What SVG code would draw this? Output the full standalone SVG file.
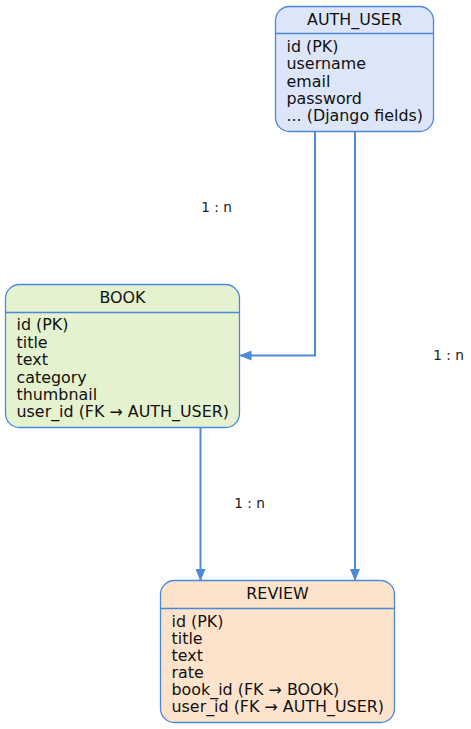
<svg xmlns="http://www.w3.org/2000/svg" width="471" height="729" viewBox="0 0 471 729">
<defs>
<style>
.box{stroke:#4a88dc;stroke-width:1.3}
.div{stroke:#4a88dc;stroke-width:1.3}
.t{font-family:"DejaVu Sans",sans-serif;font-size:15.9px;fill:#111}
.title{text-anchor:middle}
.lbl{font-family:"DejaVu Sans",sans-serif;font-size:13.7px;fill:#222;text-anchor:middle}
.edge{fill:none;stroke:#4a88dc;stroke-width:2}
</style>
<marker id="arr" markerWidth="12" markerHeight="10" viewBox="0 0 12 10" refX="11" refY="5" orient="auto" markerUnits="userSpaceOnUse">
<path d="M0,0 L12,5 L0,10 z" fill="#4a88dc"/>
</marker>
</defs>
<g id="connectors">
<path class="edge" d="M315,132 V355.5 H240.5" marker-end="url(#arr)"/>
<path class="edge" d="M355,132 V580" marker-end="url(#arr)"/>
<path class="edge" d="M200.5,428 V580" marker-end="url(#arr)"/>
<text class="lbl" x="216.5" y="212">1 : n</text>
<text class="lbl" x="448.5" y="360">1 : n</text>
<text class="lbl" x="249.5" y="507.5">1 : n</text>
</g>
<g id="auth_user">
<rect class="box" x="275.5" y="6.5" width="158" height="125" rx="14" fill="#dce6f8"/>
<line class="div" x1="275.5" y1="33.5" x2="433.5" y2="33.5"/>
<text class="t title" x="354.5" y="25">AUTH_USER</text>
<text class="t" x="286.5" y="51.5">id (PK)</text>
<text class="t" x="286.5" y="69">username</text>
<text class="t" x="286.5" y="86.5">email</text>
<text class="t" x="286.5" y="103.5">password</text>
<text class="t" x="286.5" y="121">... (Django fields)</text>
</g>
<g id="book">
<rect class="box" x="5.5" y="284.5" width="234" height="143" rx="14" fill="#e4f2d0"/>
<line class="div" x1="5.5" y1="312.5" x2="239.5" y2="312.5"/>
<text class="t title" x="122.5" y="302.5">BOOK</text>
<text class="t" x="16.5" y="330">id (PK)</text>
<text class="t" x="16.5" y="347.5">title</text>
<text class="t" x="16.5" y="365">text</text>
<text class="t" x="16.5" y="382.5">category</text>
<text class="t" x="16.5" y="400">thumbnail</text>
<text class="t" x="16.5" y="417">user_id (FK → AUTH_USER)</text>
</g>
<g id="review">
<rect class="box" x="160.5" y="580.5" width="234" height="142" rx="14" fill="#fde3cc"/>
<line class="div" x1="160.5" y1="608.5" x2="394.5" y2="608.5"/>
<text class="t title" x="277.5" y="598.5">REVIEW</text>
<text class="t" x="171.5" y="626.5">id (PK)</text>
<text class="t" x="171.5" y="643.5">title</text>
<text class="t" x="171.5" y="660.5">text</text>
<text class="t" x="171.5" y="677.5">rate</text>
<text class="t" x="171.5" y="694.5">book_id (FK → BOOK)</text>
<text class="t" x="171.5" y="711.5">user_id (FK → AUTH_USER)</text>
</g>
</svg>
